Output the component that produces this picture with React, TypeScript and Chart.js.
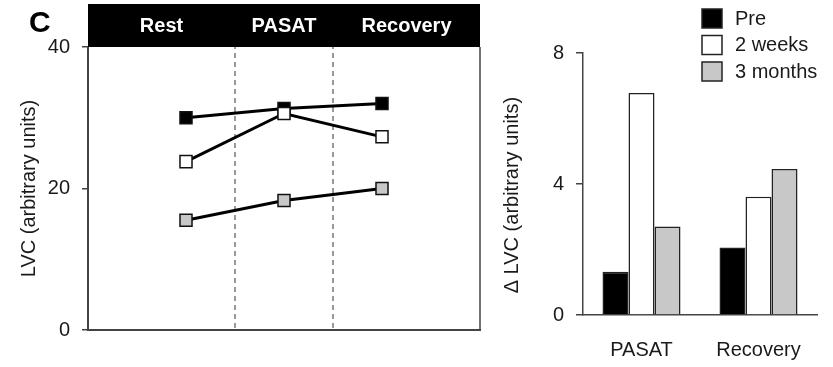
import React, { useEffect, useRef } from "react";
import { Chart, registerables } from "chart.js";

Chart.register(...registerables);

// ---- data ----
const phases = ["Rest", "PASAT", "Recovery"];
const phaseDividers = [0.5, 1.5];
const preLVC = [30.0, 31.3, 32.0];
const twoWeeksLVC = [23.8, 30.6, 27.3];
const threeMonthsLVC = [15.5, 18.3, 20.0];

const deltaCategories = ["PASAT", "Recovery"];
const preDelta = [1.32, 2.06];
const twoWeeksDelta = [6.78, 3.61];
const threeMonthsDelta = [2.7, 4.46];

const seriesNames = ["Pre", "2 weeks", "3 months"];
const leftTicks = [0, 20, 40];
const rightTicks = [0, 4, 8];

const FONT = "'Liberation Sans', Arial, Helvetica, sans-serif";
const BLACK = "#000000";
const WHITE = "#ffffff";
const GRAY = "#c8c8c8";
const AXIS = "#444444";
const TEXT = "#1a1a1a";
const FS = 20;

const toPts = (arr: number[]) => arr.map((y, i) => ({ x: i, y }));

const headerPlugin = {
  id: "phaseHeader",
  afterDraw(chart: any) {
    const { ctx, chartArea, scales } = chart;
    const xs = scales.x;
    ctx.save();
    ctx.fillStyle = "#000";
    ctx.fillRect(chartArea.left, 4, chartArea.right - chartArea.left, chartArea.top - 4);
    const bounds = [xs.min, ...phaseDividers, xs.max];
    ctx.fillStyle = "#fff";
    ctx.font = `bold 20px ${FONT}`;
    ctx.textAlign = "center";
    ctx.textBaseline = "middle";
    phases.forEach((p, i) => {
      const cx = (xs.getPixelForValue(bounds[i]) + xs.getPixelForValue(bounds[i + 1])) / 2;
      ctx.fillText(p, cx, (4 + chartArea.top) / 2 + 1);
    });
    // right frame line
    ctx.strokeStyle = AXIS;
    ctx.lineWidth = 1.5;
    ctx.beginPath();
    ctx.moveTo(chartArea.right, chartArea.top);
    ctx.lineTo(chartArea.right, chartArea.bottom);
    ctx.stroke();
    // panel letter
    ctx.fillStyle = "#000";
    ctx.font = `bold 30px ${FONT}`;
    ctx.textAlign = "left";
    ctx.textBaseline = "alphabetic";
    ctx.fillText("C", 29, 32);
    ctx.restore();
  },
};

const legendPlugin = {
  id: "boxLegend",
  afterDraw(chart: any) {
    const { ctx } = chart;
    ctx.save();
    chart.data.datasets.forEach((ds: any, i: number) => {
      const y = 9 + i * 26.5;
      ctx.fillStyle = ds.backgroundColor;
      ctx.fillRect(212, y, 20, 19);
      ctx.strokeStyle = "#222";
      ctx.lineWidth = 1.5;
      ctx.strokeRect(212, y, 20, 19);
      ctx.fillStyle = TEXT;
      ctx.font = `${FS}px ${FONT}`;
      ctx.textAlign = "left";
      ctx.textBaseline = "middle";
      ctx.fillText(ds.label, 245, y + 10);
    });
    ctx.restore();
  },
};

function LineChart() {
  const ref = useRef<HTMLCanvasElement>(null);
  useEffect(() => {
    const lineDs = (label: string, data: number[], fill: string, order: number) => ({
      type: "line",
      label,
      data: toPts(data),
      borderColor: "#000",
      borderWidth: 3,
      pointStyle: "rect",
      pointRadius: 8.5,
      pointBackgroundColor: fill,
      pointBorderColor: "#111",
      pointBorderWidth: 1.5,
      order,
    });
    const divDs = phaseDividers.map((d) => ({
      type: "line",
      label: "",
      data: [
        { x: d, y: 0.3 },
        { x: d, y: 40 },
      ],
      borderColor: "#555",
      borderWidth: 1.2,
      borderDash: [5, 4],
      pointRadius: 0,
      order: 10,
    }));
    const chart = new Chart(ref.current!, {
      type: "line",
      data: {
        datasets: [
          lineDs(seriesNames[0], preLVC, BLACK, 2),
          lineDs(seriesNames[1], twoWeeksLVC, WHITE, 1),
          lineDs(seriesNames[2], threeMonthsLVC, GRAY, 3),
          ...divDs,
        ] as any,
      },
      options: {
        responsive: false,
        animation: false,
        layout: { padding: { top: 47, right: 8, bottom: 37, left: 0 } },
        plugins: { legend: { display: false }, tooltip: { enabled: false } },
        scales: {
          x: {
            type: "linear",
            min: -1,
            max: 3,
            grid: { display: false, drawTicks: false },
            border: { display: true, color: AXIS, width: 2 },
            ticks: { display: false },
            afterFit: (s: any) => {
              s.height = 0;
            },
          },
          y: {
            min: 0,
            max: 40,
            afterBuildTicks: (s: any) => {
              s.ticks = leftTicks.map((v) => ({ value: v }));
            },
            grid: { drawOnChartArea: false, tickLength: 6, color: AXIS, lineWidth: 1.5 },
            border: { display: true, color: AXIS, width: 2 },
            ticks: { padding: 12, color: TEXT, font: { family: FONT, size: FS } },
            title: {
              display: true,
              text: "LVC (arbitrary units)",
              color: TEXT,
              font: { family: FONT, size: FS },
              padding: { top: 17, bottom: 0 },
            },
            afterFit: (s: any) => {
              s.width = 88;
            },
          },
        },
      } as any,
      plugins: [headerPlugin],
    });
    return () => chart.destroy();
  }, []);
  return (
    <canvas
      ref={ref}
      width={490}
      height={367}
      style={{ position: "absolute", left: 0, top: 0, width: 490, height: 367 }}
    />
  );
}

function BarChart() {
  const ref = useRef<HTMLCanvasElement>(null);
  useEffect(() => {
    const barDs = (label: string, data: number[], color: string) => ({
      label,
      data,
      backgroundColor: color,
      borderColor: "#222",
      borderWidth: 1.5,
      barPercentage: 1,
      categoryPercentage: 0.667,
    });
    const chart = new Chart(ref.current!, {
      type: "bar",
      data: {
        labels: deltaCategories,
        datasets: [
          barDs(seriesNames[0], preDelta, BLACK),
          barDs(seriesNames[1], twoWeeksDelta, WHITE),
          barDs(seriesNames[2], threeMonthsDelta, GRAY),
        ],
      },
      options: {
        responsive: false,
        animation: false,
        layout: { padding: { top: 53, right: 16, bottom: 0, left: 0 } },
        plugins: { legend: { display: false }, tooltip: { enabled: false } },
        scales: {
          x: {
            grid: { display: false, drawTicks: false },
            border: { display: true, color: AXIS, width: 1.5 },
            ticks: { padding: 23, color: TEXT, font: { family: FONT, size: FS } },
            afterFit: (s: any) => {
              s.height = 52;
            },
          },
          y: {
            min: 0,
            max: 8,
            afterBuildTicks: (s: any) => {
              s.ticks = rightTicks.map((v) => ({ value: v }));
            },
            grid: { drawOnChartArea: false, tickLength: 7, color: AXIS, lineWidth: 1.5 },
            border: { display: true, color: AXIS, width: 1.5 },
            ticks: { padding: 12, color: TEXT, font: { family: FONT, size: FS } },
            title: {
              display: true,
              text: "\u0394 LVC (arbitrary units)    ",
              color: TEXT,
              font: { family: FONT, size: FS },
              padding: { top: 10, bottom: 0 },
            },
            afterFit: (s: any) => {
              s.width = 93;
            },
          },
        },
      } as any,
      plugins: [legendPlugin],
    });
    return () => chart.destroy();
  }, []);
  return (
    <canvas
      ref={ref}
      width={343}
      height={367}
      style={{ position: "absolute", left: 490, top: 0, width: 343, height: 367 }}
    />
  );
}

export default function App() {
  return (
    <div
      style={{
        position: "absolute",
        left: 0,
        top: 0,
        width: 833,
        height: 367,
        background: "#fff",
        overflow: "hidden",
      }}
    >
      <LineChart />
      <BarChart />
    </div>
  );
}
